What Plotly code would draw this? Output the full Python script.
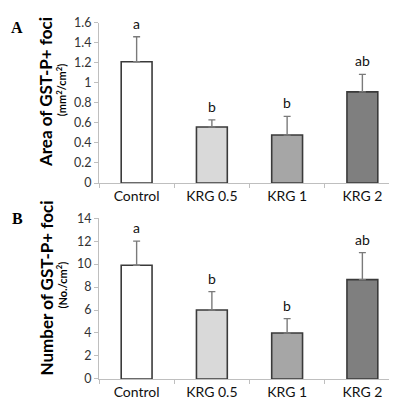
import plotly.graph_objects as go

categories = ["Control", "KRG 0.5", "KRG 1", "KRG 2"]
area_means = [1.21, 0.56, 0.48, 0.91]
area_err = [0.25, 0.07, 0.185, 0.175]
area_letters = ["a", "b", "b", "ab"]
number_means = [9.9, 6.0, 4.0, 8.65]
number_err = [2.1, 1.6, 1.25, 2.35]
number_letters = ["a", "b", "b", "ab"]
bar_colors = ["#ffffff", "#d9d9d9", "#a6a6a6", "#7f7f7f"]

W, H = 397, 402
def py(px):
    return 1 - px / H

fig = go.Figure()
font_fam = "Lato, Open Sans, sans-serif"

for i, (means, err) in enumerate([(area_means, area_err), (number_means, number_err)]):
    xa = "x" if i == 0 else "x2"
    ya = "y" if i == 0 else "y2"
    fig.add_trace(go.Bar(
        x=categories, y=means, xaxis=xa, yaxis=ya,
        marker=dict(color=bar_colors, line=dict(color="#3a3a3a", width=1.6)),
        error_y=dict(type="data", array=err, arrayminus=[0]*len(err), symmetric=False,
                     color="#7a7a7a", thickness=1.4, width=3.5),
        showlegend=False,
    ))
    letters = area_letters if i == 0 else number_letters
    for c, m, e, t in zip(categories, means, err, letters):
        fig.add_annotation(x=c, y=m + e, xref=xa, yref=ya, text=t, showarrow=False,
                           yanchor="bottom", yshift=3,
                           font=dict(family=font_fam, size=14, color="#111"))

axis_common = dict(showline=True, linecolor="#bfbfbf", linewidth=1, ticks="outside",
                   tickcolor="#bfbfbf", ticklen=4, showgrid=False, zeroline=False,
                   tickfont=dict(family=font_fam, size=12.5, color="#333"))

fig.update_layout(
    width=W, height=H, margin=dict(l=0, r=0, t=0, b=0),
    plot_bgcolor="white", paper_bgcolor="white", bargap=0.59,
    xaxis=dict(domain=[91/W, 392/W], anchor="y", tickson="boundaries", **axis_common),
    yaxis=dict(domain=[py(173.5), py(7)], anchor="x", range=[0, 1.6],
               tickvals=[0, 0.2, 0.4, 0.6, 0.8, 1, 1.2, 1.4, 1.6],
               ticktext=["0", "0.2", "0.4", "0.6", "0.8", "1", "1.2", "1.4", "1.6"],
               **axis_common),
    xaxis2=dict(domain=[91/W, 392/W], anchor="y2", tickson="boundaries", **axis_common),
    yaxis2=dict(domain=[py(377), py(210)], anchor="x2", range=[0, 14], dtick=2, **axis_common),
)
fig.update_xaxes(tickfont=dict(size=14, color="#111"))

# Panel letters
for lbl, ypx in [("A", 12), ("B", 210)]:
    fig.add_annotation(x=9/W, y=py(ypx), xref="paper", yref="paper", text="<b>%s</b>" % lbl,
                       showarrow=False, xanchor="center", yanchor="middle",
                       font=dict(family="Liberation Serif, serif", size=16, color="#000"))

# Y axis titles
fig.add_annotation(x=37/W, y=py(79), xref="paper", yref="paper", text="<b>Area of GST-P+ foci</b>",
                   textangle=-90, showarrow=False, xanchor="center", yanchor="middle",
                   font=dict(family=font_fam, size=17, color="#000"))
fig.add_annotation(x=53/W, y=py(76), xref="paper", yref="paper", text="<b>(mm<sup>2</sup>/cm<sup>2</sup>)</b>",
                   textangle=-90, showarrow=False, xanchor="center", yanchor="middle",
                   font=dict(family=font_fam, size=11, color="#000"))
fig.add_annotation(x=38/W, y=py(283), xref="paper", yref="paper", text="<b>Number of GST-P+ foci</b>",
                   textangle=-90, showarrow=False, xanchor="center", yanchor="middle",
                   font=dict(family=font_fam, size=17, color="#000"))
fig.add_annotation(x=54/W, y=py(280), xref="paper", yref="paper", text="<b>(No./cm<sup>2</sup>)</b>",
                   textangle=-90, showarrow=False, xanchor="center", yanchor="middle",
                   font=dict(family=font_fam, size=11, color="#000"))

fig.write_html("out.html")
